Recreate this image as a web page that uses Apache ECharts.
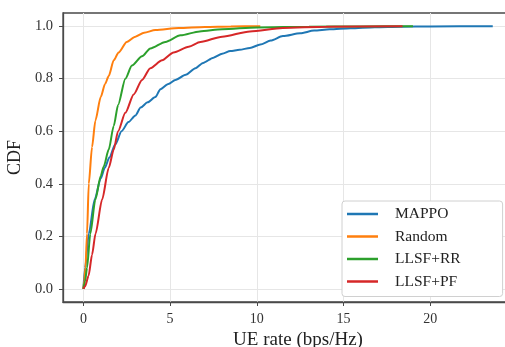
<!DOCTYPE html>
<html>
<head>
<meta charset="utf-8">
<script src="https://cdn.jsdelivr.net/npm/echarts@6/dist/echarts.min.js"></script>
<style>html,body{margin:0;padding:0;background:#fff;}#c{width:505px;height:347px;}</style>
</head>
<body>
<div id="c"></div>
<script>
const seriesNames = ['MAPPO', 'Random', 'LLSF+RR', 'LLSF+PF'];
const colors = ['#1f77b4', '#ff7f0e', '#2ca02c', '#d62728'];
const xTicks = [0, 5, 10, 15, 20];
const yTicks = [0, 0.2, 0.4, 0.6, 0.8, 1.0];

const mappo = [[0,0],[0.1,0.08],[0.31,0.21],[0.65,0.34],[1.0,0.42],[1.23,0.46],[1.5,0.50],[1.84,0.55],[2.2,0.60],[2.6,0.635],[3.0,0.66],[3.3,0.69],[3.7,0.71],[4.15,0.73],[4.44,0.76],[4.9,0.78],[5.3,0.795],[5.9,0.815],[6.46,0.84],[6.9,0.86],[7.5,0.88],[8.0,0.895],[8.47,0.905],[9.0,0.91],[9.6,0.917],[10.2,0.93],[10.8,0.945],[11.5,0.962],[12.5,0.973],[13.3,0.983],[14.2,0.988],[15.4,0.992],[16.8,0.996],[18.3,0.998],[20,0.999],[23.6,1.0]];
const random = [[0,0],[0.05,0.03],[0.12,0.08],[0.21,0.21],[0.31,0.40],[0.5,0.54],[0.69,0.64],[1.0,0.73],[1.25,0.78],[1.46,0.81],[1.75,0.87],[2.03,0.90],[2.5,0.94],[3.0,0.96],[3.5,0.975],[4.15,0.985],[5.5,0.993],[7,0.997],[8.5,0.999],[10.2,1.0]];
const llsfRR = [[0,0],[0.1,0.03],[0.21,0.08],[0.40,0.21],[0.69,0.34],[1.0,0.43],[1.17,0.465],[1.46,0.53],[1.75,0.62],[2.0,0.70],[2.42,0.80],[2.8,0.85],[3.38,0.885],[3.86,0.915],[4.73,0.94],[5.6,0.965],[6.7,0.98],[8,0.988],[10,0.995],[13,0.998],[16,0.999],[19,1.0]];
const llsfPF = [[0,0],[0.1,0.01],[0.3,0.05],[0.5,0.13],[0.7,0.21],[1.08,0.34],[1.46,0.46],[1.75,0.53],[2.0,0.60],[2.42,0.67],[2.9,0.74],[3.38,0.795],[3.86,0.84],[4.54,0.87],[5.2,0.90],[6.07,0.922],[6.74,0.94],[8,0.96],[9.6,0.98],[11.5,0.993],[14,0.998],[18.4,1.0]];
const allData = [mappo, random, llsfRR, llsfPF];

const font = '"Liberation Serif", "Times New Roman", serif';
const chart = echarts.init(document.getElementById('c'), null, {renderer: 'canvas'});
chart.setOption({
  animation: false,
  backgroundColor: '#fff',
  grid: {left: 63, top: 13, width: 470, bottom: 45, show: true, borderColor: '#4a4a4a', borderWidth: 1.3,
    containLabel: false, outerBoundsMode: 'none'},
  xAxis: {
    type: 'value', min: -1.175, max: 25.92,
    name: 'UE rate (bps/Hz)', nameLocation: 'middle', nameGap: 25,
    nameTextStyle: {fontFamily: font, fontSize: 19, color: '#222'},
    axisLine: {show: true, onZero: false, lineStyle: {color: '#4a4a4a', width: 1.3}},
    axisTick: {show: true, customValues: xTicks, length: 4, lineStyle: {color: '#4a4a4a'}},
    axisLabel: {customValues: xTicks, fontFamily: font, fontSize: 14, color: '#333', margin: 10},
    splitLine: {show: true, lineStyle: {color: '#e6e6e6', width: 1}}
  },
  yAxis: {
    type: 'value', min: -0.05, max: 1.05,
    name: 'CDF', nameLocation: 'middle', nameGap: 31,
    nameTextStyle: {fontFamily: font, fontSize: 18, color: '#222'},
    axisLine: {show: true, onZero: false, lineStyle: {color: '#4a4a4a', width: 1.3}},
    axisTick: {show: true, customValues: yTicks, length: 4, lineStyle: {color: '#4a4a4a'}},
    axisLabel: {customValues: yTicks, fontFamily: font, fontSize: 14.5, color: '#333', margin: 10,
      formatter: v => v.toFixed(1)},
    splitLine: {show: true, lineStyle: {color: '#e6e6e6', width: 1}}
  },
  legend: {
    orient: 'vertical', left: 342, top: 201,
    padding: [5, 42, 7, 5], itemGap: 6.5,
    itemWidth: 31, itemHeight: 2.5, icon: 'rect',
    backgroundColor: '#fff', borderColor: '#d0d0d0', borderWidth: 1, borderRadius: 3,
    textStyle: {fontFamily: font, fontSize: 15.5, color: '#222', padding: [0, 0, 0, 12]},
    data: seriesNames
  },
  series: seriesNames.map((n, i) => ({
    name: n, type: 'line', data: allData[i], showSymbol: false, symbol: 'none',
    smooth: 0.25, smoothMonotone: 'x',
    lineStyle: {color: colors[i], width: 2}, itemStyle: {color: colors[i]}, z: 2
  }))
});
</script>
</body>
</html>
